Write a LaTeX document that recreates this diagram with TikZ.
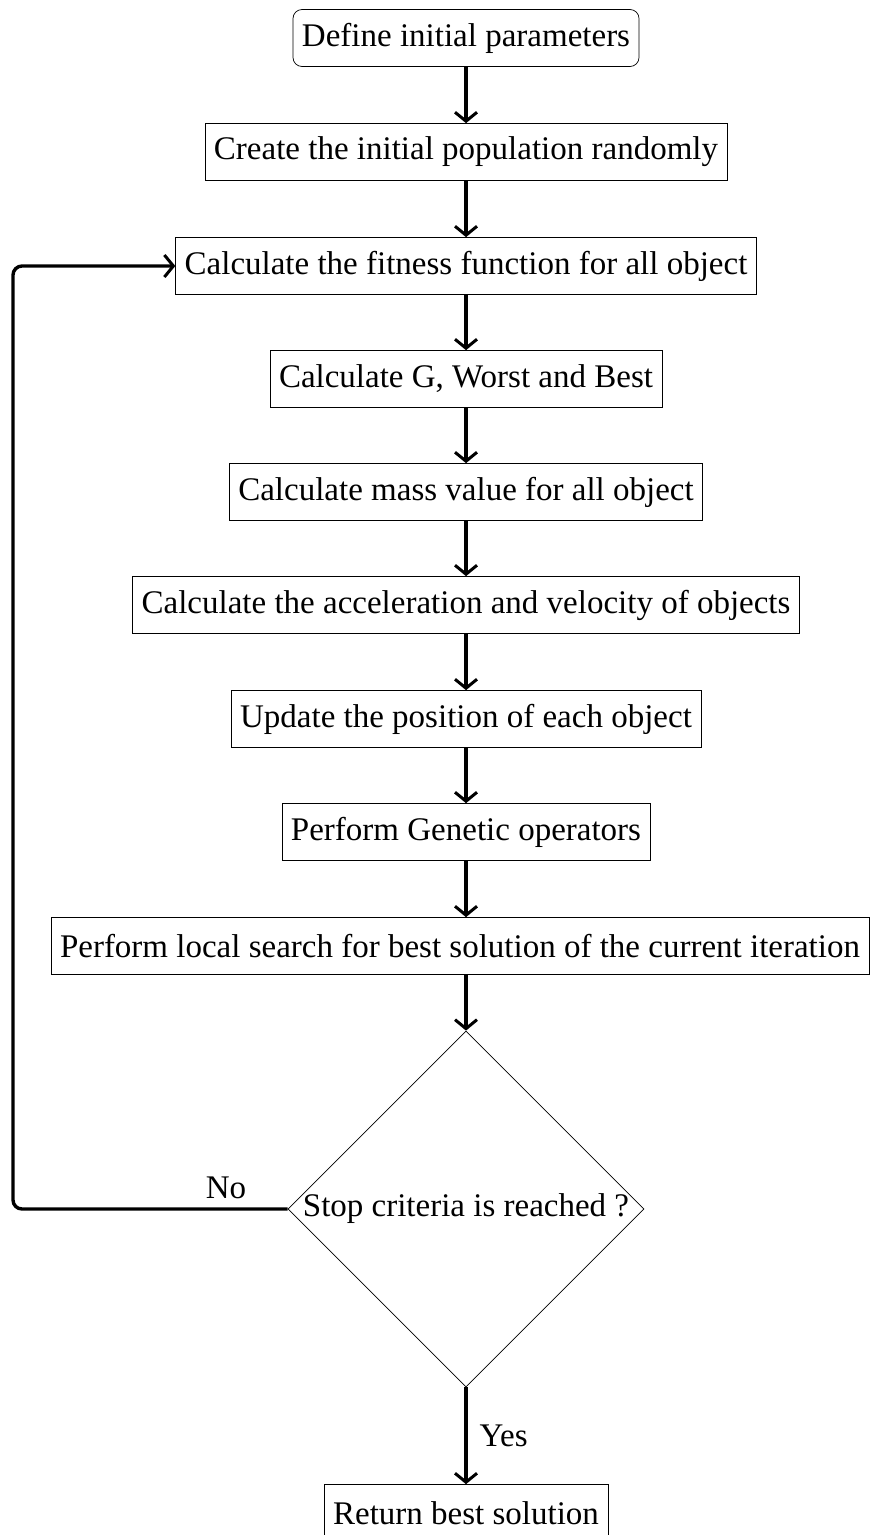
\documentclass[tikz,border=0pt]{standalone}
\usepackage{fontspec}
\setmainfont{Liberation Serif}
\usetikzlibrary{shapes.geometric,arrows.meta}
\begin{document}
\begin{tikzpicture}[x=1pt,y=-1pt,
  every node/.style={font=\fontsize{33}{40}\selectfont},
  stepbox/.style={draw,line width=0.7pt,minimum height=57pt,inner xsep=9pt,inner ysep=0pt,anchor=center},
  startbox/.style={stepbox,rounded corners=9pt},
  decbox/.style={draw,diamond,line width=0.7pt,aspect=1,minimum width=349pt,minimum height=349pt,inner sep=0pt},
  flow/.style={line width=3.4pt,-{Straight Barb[length=9pt,width=22pt,line width=3pt]}},
  lbl/.style={inner sep=0pt}]
\useasboundingbox (0,0) rectangle (871,1535);
\node[startbox] (n1) at (466,38) {Define initial parameters};
\node[stepbox] (n2) at (466,152) {Create the initial population randomly};
\node[stepbox] (n3) at (466,266) {Calculate the fitness function for all object};
\node[stepbox] (n4) at (466,379) {Calculate G, Worst and Best};
\node[stepbox] (n5) at (466,492) {Calculate mass value for all object};
\node[stepbox] (n6) at (466,605) {Calculate the acceleration and velocity of objects};
\node[stepbox] (n7) at (466,719) {Update the position of each object};
\node[stepbox] (n8) at (466,832) {Perform Genetic operators};
\node[stepbox] (n9) at (460,946) {Perform local search for best solution of the current iteration};
\node[decbox] (d) at (466,1209) {Stop criteria is reached ?};
\node[stepbox] (n10) at (466,1513) {Return best solution};
\draw[flow] (n1) -- (n2);
\draw[flow] (n2) -- (n3);
\draw[flow] (n3) -- (n4);
\draw[flow] (n4) -- (n5);
\draw[flow] (n5) -- (n6);
\draw[flow] (n6) -- (n7);
\draw[flow] (n7) -- (n8);
\draw[flow] (n8) -- (n9.north -| n8.south);
\draw[flow] (n9.south -| d.north) -- (d);
\draw[flow] (d) -- node[lbl,right=12pt] (yes) {Yes} (n10);
\coordinate (c1) at (13,1209);
\draw[flow,rounded corners=9pt] (d.west) -- (c1) |- (n3.west);
\node[lbl] (no) at (226,1188) {No};
\end{tikzpicture}
\end{document}
